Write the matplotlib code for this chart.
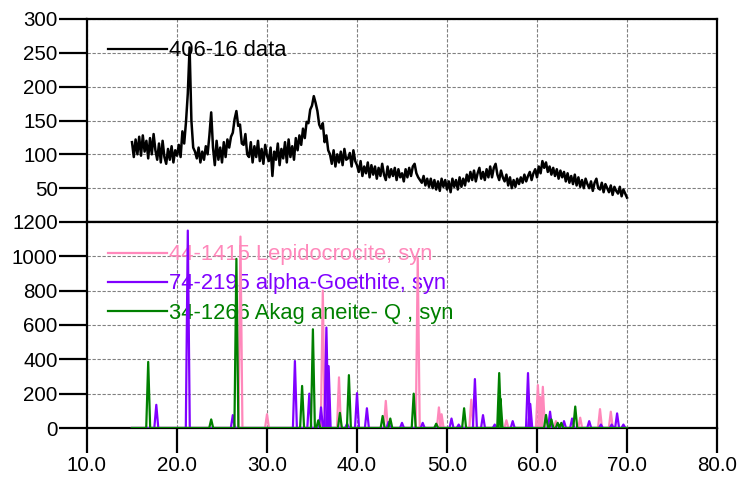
import numpy as np
import matplotlib
matplotlib.use("Agg")
import matplotlib.pyplot as plt
from matplotlib.lines import Line2D

plt.rcParams['font.family'] = ['Liberation Sans', 'DejaVu Sans']
plt.rcParams['font.size'] = 14.8

# ---------------- data ----------------
data_label = "406-16 data"
data_x0, data_step = 15.0, 0.2
data_y = [
    118, 96, 122, 100, 126,
    98, 128, 104, 120, 94,
    124, 100, 130, 106, 92,
    116, 88, 120, 96, 86,
    108, 92, 112, 88, 106,
    98, 114, 96, 134, 116,
    148, 190, 258, 150, 110,
    104, 94, 110, 88, 104,
    92, 112, 100, 128, 162,
    110, 84, 120, 92, 110,
    88, 118, 96, 122, 110,
    126, 132, 152, 164, 142,
    144, 116, 114, 130, 100,
    96, 118, 88, 112, 96,
    120, 90, 108, 86, 114,
    98, 90, 110, 68, 104,
    92, 116, 84, 108, 94,
    118, 88, 122, 96, 112,
    92, 124, 106, 128, 114,
    138, 124, 148, 146, 166,
    172, 186, 176, 164, 144,
    138, 146, 118, 128, 106,
    100, 86, 106, 82, 100,
    88, 104, 84, 108, 92,
    94, 102, 82, 106, 90,
    84, 74, 90, 68, 82,
    72, 88, 66, 84, 70,
    82, 64, 80, 68, 86,
    70, 62, 82, 66, 78,
    68, 80, 62, 78, 66,
    72, 60, 78, 66, 80,
    68, 82, 86, 72, 66,
    62, 58, 68, 54, 64,
    52, 64, 50, 62, 48,
    60, 46, 64, 52, 62,
    48, 60, 44, 64, 52,
    62, 48, 66, 52, 64,
    54, 70, 60, 74, 62,
    76, 60, 72, 80, 64,
    74, 62, 78, 66, 82,
    66, 80, 86, 70, 62,
    76, 66, 60, 70, 54,
    66, 50, 62, 52, 64,
    56, 66, 58, 70, 60,
    68, 74, 62, 72, 78,
    66, 82, 72, 90, 80,
    88, 74, 82, 70, 80,
    68, 78, 64, 76, 66,
    74, 60, 72, 58, 68,
    56, 70, 54, 66, 52,
    62, 50, 64, 56, 50,
    60, 46, 58, 64, 50,
    48, 58, 44, 56, 50,
    44, 54, 40, 52, 46,
    42, 52, 38, 48, 42,
    36,
]

lepi_label = "44-1415 Lepidocrocite, syn"
lepi_pos = [27.05, 30.0, 36.2, 38.0, 43.2, 46.75, 49.1, 49.4, 52.7, 56.6,
            60.1, 60.35, 60.65, 62.1, 64.8, 67.0, 68.2]
lepi_int = [1115, 80, 800, 295, 158, 990, 120, 80, 165, 45,
            250, 180, 240, 40, 60, 110, 95]

goet_label = "74-2195 alpha-Goethite, syn"
goet_pos = [17.7, 21.2, 26.2, 33.1, 34.7, 36.0, 36.6, 36.85, 38.9, 40.0,
            41.1, 43.5, 45.0, 47.3, 50.5, 51.3, 53.1, 54.0, 55.3, 57.3,
            59.0, 59.25, 61.45, 63.0, 63.9, 65.8, 67.1, 68.3, 68.9, 69.6]
goet_int = [135, 1150, 75, 390, 200, 120, 585, 360, 25, 203,
            115, 35, 30, 30, 55, 20, 285, 75, 20, 40,
            320, 140, 95, 40, 55, 40, 20, 20, 85, 20]

akag_label = "34-1266 Akag aneite- Q , syn"
akag_pos = [16.8, 23.8, 26.6, 33.9, 35.1, 35.7, 38.1, 39.1, 42.85, 43.7,
            46.3, 48.8, 51.9, 55.8, 55.95, 61.0, 61.6, 62.3, 62.7, 64.25]
akag_int = [385, 50, 985, 245, 575, 45, 88, 308, 70, 55,
            200, 25, 115, 320, 170, 76, 50, 30, 30, 125]

x_ticks = [10, 20, 30, 40, 50, 60, 70, 80]
x_tick_labels = ["10.0", "20.0", "30.0", "40.0", "50.0", "60.0", "70.0", "80.0"]
top_yticks = [50, 100, 150, 200, 250, 300]
bot_yticks = [0, 200, 400, 600, 800, 1000, 1200]

c_data = "black"
c_lepi = "#FF88BB"
c_goet = "#8000FF"
c_akag = "#008000"

# ---------------- figure ----------------
W, H = 740, 479
fig = plt.figure(figsize=(W / 100, H / 100), dpi=100)
L, R = 87, 717
ax1 = fig.add_axes([L / W, 1 - 222 / H, (R - L) / W, (222 - 19) / H])
ax2 = fig.add_axes([L / W, 1 - 428 / H, (R - L) / W, (428 - 222) / H])

grid_kw = dict(color="#808080", linestyle=(0, (3, 1.5)), linewidth=0.8)

for ax in (ax1, ax2):
    ax.set_xlim(10, 80)
    for s in ax.spines.values():
        s.set_linewidth(1.6)
        s.set_color("black")
    ax.tick_params(axis="y", direction="out", length=20, width=1.6, pad=1,
                   labelsize=14.8)
    ax.set_xticks(x_ticks)
    ax.grid(True, **grid_kw)
    ax.set_axisbelow(True)

# top panel
xs = data_x0 + data_step * np.arange(len(data_y))
ax1.plot(xs, data_y, color=c_data, linewidth=1.8, zorder=3)
ax1.set_ylim(0, 300)
ax1.set_yticks(top_yticks)
ax1.tick_params(axis="x", length=0, labelbottom=False)


def stick_profile(pos, inten, hw=0.22):
    order = np.argsort(pos)
    px, py = [15.0], [0.0]
    for i in order:
        p, h = pos[i], inten[i]
        px += [p - hw, p, p + hw]
        py += [0.0, h, 0.0]
    px.append(70.0)
    py.append(0.0)
    return px, py


for pos, inten, col in [(lepi_pos, lepi_int, c_lepi),
                        (goet_pos, goet_int, c_goet),
                        (akag_pos, akag_int, c_akag)]:
    px, py = stick_profile(pos, inten)
    ax2.plot(px, py, color=col, linewidth=1.6, zorder=3)

ax2.set_ylim(0, 1200)
ax2.set_yticks(bot_yticks)
ax2.set_xticklabels(x_tick_labels)
ax2.tick_params(axis="x", direction="out", length=18, width=1.6, pad=2.5,
                labelsize=14.8)

# legend-style entries (line sample + coloured text), drawn beneath the data
legend_entries = [(ax1, data_label, c_data, 49),
                  (ax2, lepi_label, c_lepi, 252.5),
                  (ax2, goet_label, c_goet, 282),
                  (ax2, akag_label, c_akag, 311)]
for ax, text, col, yc in legend_entries:
    ax.add_line(Line2D([108 / W, 167 / W], [1 - yc / H, 1 - yc / H],
                       transform=fig.transFigure, color=col,
                       linewidth=1.6, zorder=1, clip_on=False))
    ax.text(169 / W, 1 - (yc + 7.5) / H, text, color=col, fontsize=15.8,
            ha="left", va="baseline", zorder=1, transform=fig.transFigure)

fig.savefig("out.png", dpi=100)
